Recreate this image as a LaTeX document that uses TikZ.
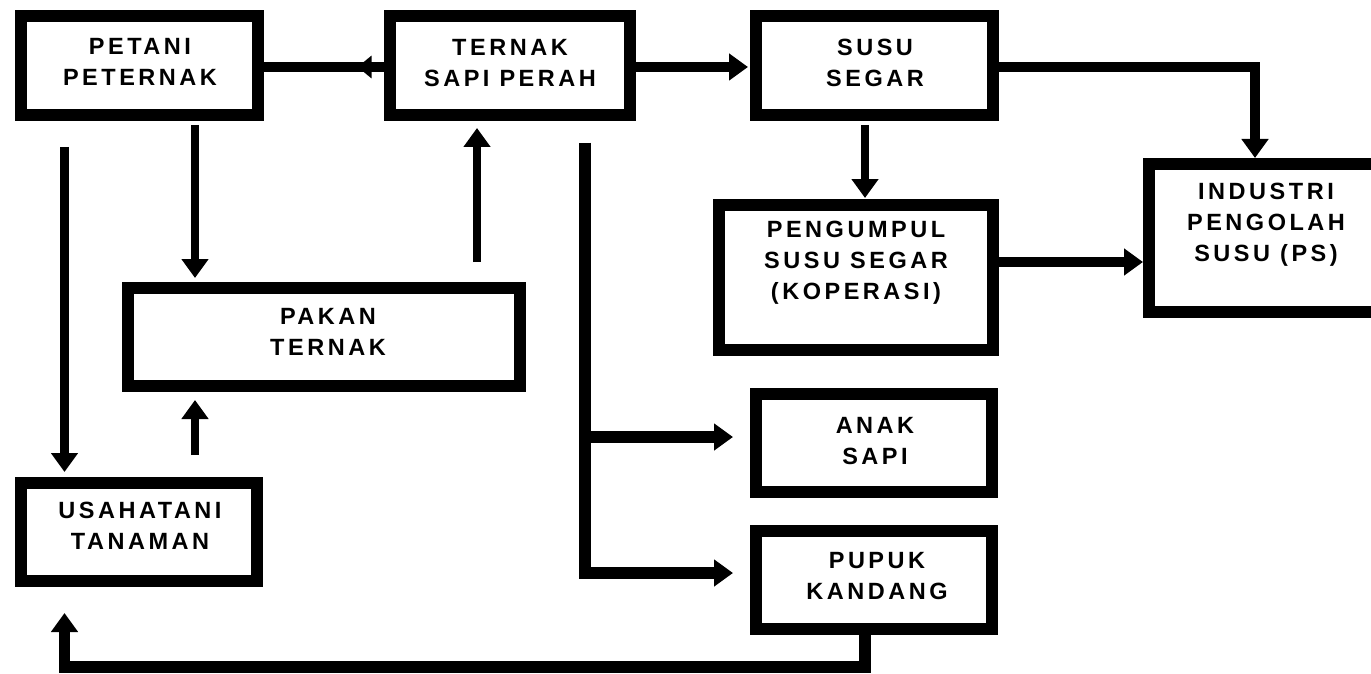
\documentclass[tikz,border=0pt]{standalone}
\usepackage{fontspec}
\setmainfont{Liberation Sans}
\newfontfamily\lblfont[LetterSpace=15]{Liberation Sans}
\usetikzlibrary{arrows.meta,decorations.markings}

\begin{document}
\begin{tikzpicture}[x=1pt,y=-1pt,
  box/.style={draw=black, line width=12pt, fill=white, inner sep=0pt, line join=miter},
  lbl/.style={inner sep=0pt, align=center, font={\lblfont\bfseries\fontsize{23.5}{31}\selectfont}},
  conn/.style={line width=10.5pt, line join=miter},
  thinline/.style={line width=8.5pt},
  arr/.style={conn, -{Triangle[length=19pt,width=26pt]}},
]
\clip (0,0) rectangle (1371,674);
\fill[white] (0,0) rectangle (1371,674);

% boxes
\node[box, minimum width=237pt, minimum height=99pt]  (petani)    at (139.5,65.5) {};
\node[box, minimum width=240pt, minimum height=99pt]  (ternak)    at (510,65.5)   {};
\node[box, minimum width=237pt, minimum height=99pt]  (susu)      at (874.5,65.5) {};
\node[box, minimum width=274pt, minimum height=145pt] (pengumpul) at (856,277.5)  {};
\node[box, minimum width=234pt, minimum height=148pt] (industri)  at (1266,238)   {};
\node[box, minimum width=392pt, minimum height=98pt]  (pakan)     at (324,337)    {};
\node[box, minimum width=236pt, minimum height=98pt]  (anak)      at (874,443)    {};
\node[box, minimum width=236pt, minimum height=98pt]  (pupuk)     at (874,580)    {};
\node[box, minimum width=236pt, minimum height=98pt]  (usahatani) at (139,532)    {};

% labels
\node[lbl] (tPetani)    at (140,62)   {PETANI\\PETERNAK};
\node[lbl] (tTernak)    at (510,63)   {TERNAK\\SAPI PERAH};
\node[lbl] (tSusu)      at (875,63)   {SUSU\\SEGAR};
\node[lbl] (tPengumpul) at (856,263)  {PENGUMPUL\\SUSU SEGAR\\(KOPERASI)};
\node[lbl] (tIndustri)  at (1266,225) {INDUSTRI\\PENGOLAH\\SUSU (PS)};
\node[lbl] (tPakan)     at (328,332)  {PAKAN\\TERNAK};
\node[lbl] (tAnak)      at (875,441)  {ANAK\\SAPI};
\node[lbl] (tPupuk)     at (877,576)  {PUPUK\\KANDANG};
\node[lbl] (tUsahatani) at (140,526)  {USAHATANI\\TANAMAN};

% guide coordinates for connector columns and rows
\coordinate (xh) at (64.5,0);
\coordinate (xf) at (195,0);
\coordinate (xg) at (477,0);
\coordinate (xj) at (585,0);
\coordinate (xd) at (865,0);
\coordinate (xc) at (1255,0);
\coordinate (yr) at (0,67);
\coordinate (ye) at (0,262);
\coordinate (ya) at (0,437);
\coordinate (yp) at (0,573);
\coordinate (yk) at (0,667);

% connectors
\draw[conn, postaction={decorate, decoration={markings,
    mark=at position 0.78 with {\arrowreversed{Triangle[length=14pt,width=22pt]}}}}]
  (petani.east |- yr) -- (ternak.west |- yr);
\draw[arr, shorten >=2pt] (ternak.east |- yr) -- (susu.west |- yr);
\draw[arr] (susu.east |- yr) -| (industri.north -| xc);
\draw[arr, thinline, shorten <=4pt, shorten >=1pt] (susu.south -| xd) -- (pengumpul.north -| xd);
\draw[arr] (pengumpul.east |- ye) -- (industri.west |- ye);
\draw[arr, thinline, shorten <=4pt, shorten >=4pt] (petani.south -| xf) -- (pakan.north -| xf);
\draw[arr, thinline, shorten <=20pt, shorten >=7pt] (pakan.north -| xg) -- (ternak.south -| xg);
\draw[arr, thinline, shorten <=26pt, shorten >=5pt] (petani.south -| xh) -- (usahatani.north -| xh);
\draw[arr, thinline, shorten <=22pt, shorten >=8pt] (usahatani.north -| xf) -- (pakan.south -| xf);
\draw[arr, line width=11.5pt, shorten <=22pt, shorten >=17pt] (ternak.south -| xj) |- (anak.west |- ya);
\draw[arr, line width=11.5pt, shorten <=22pt, shorten >=17pt] (ternak.south -| xj) |- (pupuk.west |- yp);
\draw[arr, line width=11.5pt, shorten >=26pt]
  (pupuk.south -| xd) -- (xd |- yk) -- (xh |- yk) -- (usahatani.south -| xh);
\end{tikzpicture}
\end{document}
